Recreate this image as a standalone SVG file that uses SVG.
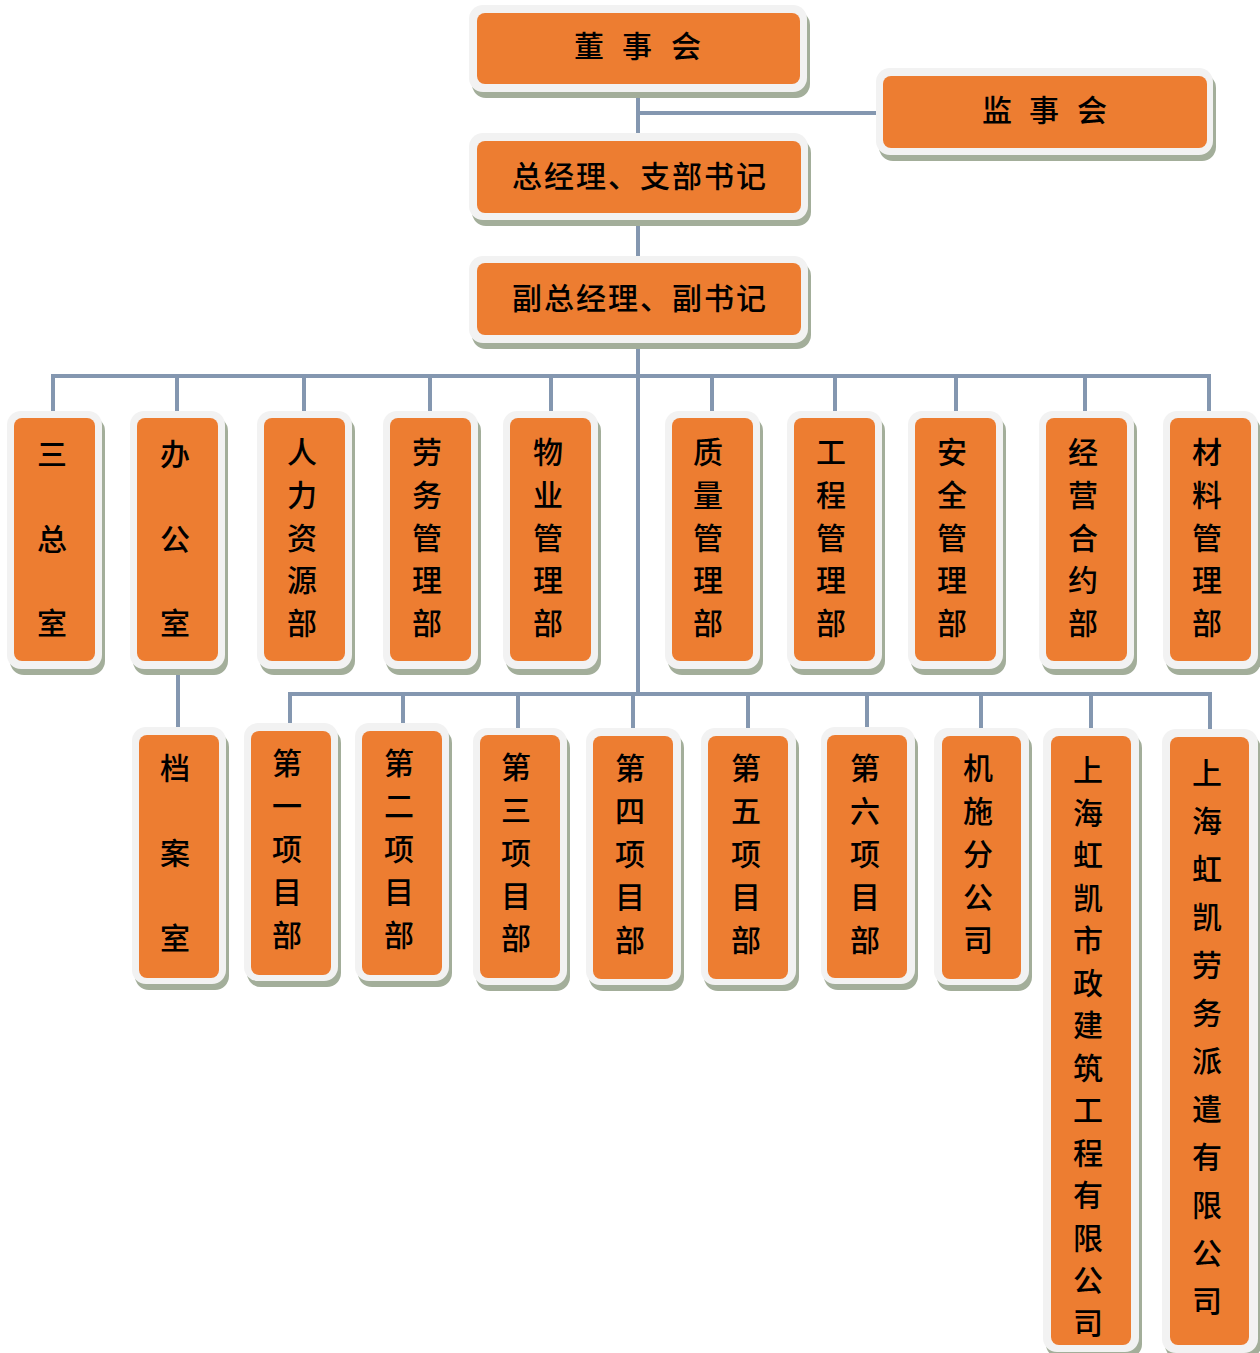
<svg xmlns="http://www.w3.org/2000/svg" width="1260" height="1353" viewBox="0 0 1260 1353">
<style>
.sh{fill:#a3ae9a}
.out{fill:#f2f2f2}
.in{fill:#ed7d31}
.t{font-family:"Noto Sans CJK SC","Noto Sans CJK TC",sans-serif;font-size:30px;font-weight:500;fill:#000;dominant-baseline:central;transform:translate(0,-2px)}
.c{text-anchor:middle}
.con{fill:none;stroke:#8497b0;stroke-width:4}
</style>
<rect width="1260" height="1353" fill="#ffffff"/>
<g id="connectors">
<path class="con" d="M638 92V694"/>
<path class="con" d="M638 113H876"/>
<path class="con" d="M53 411V376H1209V411"/>
<path class="con" d="M177 376V411M304 376V411M430 376V411M551 376V411M712 376V411M835 376V411M956 376V411M1085 376V411"/>
<path class="con" d="M178 669V728"/>
<path class="con" d="M290 727V694H1210V729"/>
<path class="con" d="M403 694V724M518 694V728M633 694V728M748 694V728M867 694V728M981 694V728M1091 694V729"/>
</g>
<g id="n-dongshihui">
<rect class="sh" x="472" y="11" width="338" height="87" rx="14"/>
<rect class="out" x="469" y="5" width="338" height="87" rx="14"/>
<rect class="in" x="477" y="13" width="323" height="71" rx="8"/>
<text class="t" y="46" x="574 604 622 652 671" xml:space="preserve">董 事 会</text>
</g>
<g id="n-jianshihui">
<rect class="sh" x="879" y="74" width="337" height="87" rx="14"/>
<rect class="out" x="876" y="68" width="337" height="87" rx="14"/>
<rect class="in" x="883" y="76" width="324" height="72" rx="8"/>
<text class="t" y="110" x="982 1012 1029 1059 1077" xml:space="preserve">监 事 会</text>
</g>
<g id="n-zongjingli">
<rect class="sh" x="472" y="139" width="339" height="87" rx="14"/>
<rect class="out" x="469" y="133" width="339" height="87" rx="14"/>
<rect class="in" x="477" y="141" width="324" height="72" rx="8"/>
<text class="t c" x="640" y="176" style="letter-spacing:2px">总经理、支部书记</text>
</g>
<g id="n-fuzong">
<rect class="sh" x="472" y="262" width="339" height="87" rx="14"/>
<rect class="out" x="469" y="256" width="339" height="87" rx="14"/>
<rect class="in" x="477" y="263" width="324" height="72" rx="8"/>
<text class="t c" x="640" y="298" style="letter-spacing:2px">副总经理、副书记</text>
</g>

<g id="n-sanzongshi">
<rect class="sh" x="10" y="417" width="95" height="258" rx="14"/>
<rect class="out" x="7" y="411" width="95" height="258" rx="14"/>
<rect class="in" x="14" y="418" width="81" height="243" rx="8"/>
<text class="t c"><tspan x="52" y="454">三</tspan><tspan x="52" y="539">总</tspan><tspan x="52" y="623">室</tspan></text>
</g>
<g id="n-bangongshi">
<rect class="sh" x="133" y="417" width="95" height="258" rx="14"/>
<rect class="out" x="130" y="411" width="95" height="258" rx="14"/>
<rect class="in" x="137" y="418" width="81" height="243" rx="8"/>
<text class="t c"><tspan x="175" y="454">办</tspan><tspan x="175" y="539">公</tspan><tspan x="175" y="623">室</tspan></text>
</g>
<g id="n-renli">
<rect class="sh" x="260" y="417" width="95" height="258" rx="14"/>
<rect class="out" x="257" y="411" width="95" height="258" rx="14"/>
<rect class="in" x="264" y="418" width="81" height="243" rx="8"/>
<text class="t c"><tspan x="302" y="452">人</tspan><tspan x="302" y="495">力</tspan><tspan x="302" y="538">资</tspan><tspan x="302" y="580">源</tspan><tspan x="302" y="623">部</tspan></text>
</g>
<g id="n-laowu">
<rect class="sh" x="386" y="417" width="95" height="258" rx="14"/>
<rect class="out" x="383" y="411" width="95" height="258" rx="14"/>
<rect class="in" x="390" y="418" width="81" height="243" rx="8"/>
<text class="t c"><tspan x="427" y="452">劳</tspan><tspan x="427" y="495">务</tspan><tspan x="427" y="538">管</tspan><tspan x="427" y="580">理</tspan><tspan x="427" y="623">部</tspan></text>
</g>
<g id="n-wuye">
<rect class="sh" x="506" y="417" width="95" height="258" rx="14"/>
<rect class="out" x="503" y="411" width="95" height="258" rx="14"/>
<rect class="in" x="510" y="418" width="81" height="243" rx="8"/>
<text class="t c"><tspan x="548" y="452">物</tspan><tspan x="548" y="495">业</tspan><tspan x="548" y="538">管</tspan><tspan x="548" y="580">理</tspan><tspan x="548" y="623">部</tspan></text>
</g>
<g id="n-zhiliang">
<rect class="sh" x="668" y="417" width="95" height="258" rx="14"/>
<rect class="out" x="665" y="411" width="95" height="258" rx="14"/>
<rect class="in" x="672" y="418" width="81" height="243" rx="8"/>
<text class="t c"><tspan x="708" y="452">质</tspan><tspan x="708" y="495">量</tspan><tspan x="708" y="538">管</tspan><tspan x="708" y="580">理</tspan><tspan x="708" y="623">部</tspan></text>
</g>
<g id="n-gongcheng">
<rect class="sh" x="790" y="417" width="95" height="258" rx="14"/>
<rect class="out" x="787" y="411" width="95" height="258" rx="14"/>
<rect class="in" x="794" y="418" width="81" height="243" rx="8"/>
<text class="t c"><tspan x="831" y="452">工</tspan><tspan x="831" y="495">程</tspan><tspan x="831" y="538">管</tspan><tspan x="831" y="580">理</tspan><tspan x="831" y="623">部</tspan></text>
</g>
<g id="n-anquan">
<rect class="sh" x="911" y="417" width="95" height="258" rx="14"/>
<rect class="out" x="908" y="411" width="95" height="258" rx="14"/>
<rect class="in" x="915" y="418" width="81" height="243" rx="8"/>
<text class="t c"><tspan x="952" y="452">安</tspan><tspan x="952" y="495">全</tspan><tspan x="952" y="538">管</tspan><tspan x="952" y="580">理</tspan><tspan x="952" y="623">部</tspan></text>
</g>
<g id="n-jingying">
<rect class="sh" x="1042" y="417" width="95" height="258" rx="14"/>
<rect class="out" x="1039" y="411" width="95" height="258" rx="14"/>
<rect class="in" x="1046" y="418" width="81" height="243" rx="8"/>
<text class="t c"><tspan x="1083" y="452">经</tspan><tspan x="1083" y="495">营</tspan><tspan x="1083" y="538">合</tspan><tspan x="1083" y="580">约</tspan><tspan x="1083" y="623">部</tspan></text>
</g>
<g id="n-cailiao">
<rect class="sh" x="1166" y="417" width="95" height="258" rx="14"/>
<rect class="out" x="1163" y="411" width="95" height="258" rx="14"/>
<rect class="in" x="1170" y="418" width="81" height="243" rx="8"/>
<text class="t c"><tspan x="1207" y="452">材</tspan><tspan x="1207" y="495">料</tspan><tspan x="1207" y="538">管</tspan><tspan x="1207" y="580">理</tspan><tspan x="1207" y="623">部</tspan></text>
</g>

<g id="n-dangan">
<rect class="sh" x="135" y="733" width="94" height="257" rx="14"/>
<rect class="out" x="132" y="727" width="94" height="257" rx="14"/>
<rect class="in" x="139" y="735" width="80" height="243" rx="8"/>
<text class="t c"><tspan x="175" y="768">档</tspan><tspan x="175" y="853">案</tspan><tspan x="175" y="938">室</tspan></text>
</g>
<g id="n-xm1">
<rect class="sh" x="247" y="729" width="94" height="258" rx="14"/>
<rect class="out" x="244" y="723" width="94" height="258" rx="14"/>
<rect class="in" x="251" y="731" width="80" height="244" rx="8"/>
<text class="t c"><tspan x="287" y="763">第</tspan><tspan x="287" y="806">一</tspan><tspan x="287" y="849">项</tspan><tspan x="287" y="892">目</tspan><tspan x="287" y="935">部</tspan></text>
</g>
<g id="n-xm2">
<rect class="sh" x="358" y="729" width="94" height="258" rx="14"/>
<rect class="out" x="355" y="723" width="94" height="258" rx="14"/>
<rect class="in" x="362" y="731" width="80" height="244" rx="8"/>
<text class="t c"><tspan x="399" y="763">第</tspan><tspan x="399" y="806">二</tspan><tspan x="399" y="849">项</tspan><tspan x="399" y="892">目</tspan><tspan x="399" y="935">部</tspan></text>
</g>
<g id="n-xm3">
<rect class="sh" x="476" y="734" width="94" height="257" rx="14"/>
<rect class="out" x="473" y="728" width="94" height="257" rx="14"/>
<rect class="in" x="480" y="735" width="80" height="243" rx="8"/>
<text class="t c"><tspan x="516" y="767">第</tspan><tspan x="516" y="810">三</tspan><tspan x="516" y="853">项</tspan><tspan x="516" y="896">目</tspan><tspan x="516" y="938">部</tspan></text>
</g>
<g id="n-xm4">
<rect class="sh" x="589" y="734" width="95" height="257" rx="14"/>
<rect class="out" x="586" y="728" width="95" height="257" rx="14"/>
<rect class="in" x="593" y="736" width="80" height="243" rx="8"/>
<text class="t c"><tspan x="630" y="768">第</tspan><tspan x="630" y="811">四</tspan><tspan x="630" y="854">项</tspan><tspan x="630" y="897">目</tspan><tspan x="630" y="940">部</tspan></text>
</g>
<g id="n-xm5">
<rect class="sh" x="704" y="734" width="95" height="257" rx="14"/>
<rect class="out" x="701" y="728" width="95" height="257" rx="14"/>
<rect class="in" x="708" y="736" width="80" height="243" rx="8"/>
<text class="t c"><tspan x="746" y="768">第</tspan><tspan x="746" y="811">五</tspan><tspan x="746" y="854">项</tspan><tspan x="746" y="897">目</tspan><tspan x="746" y="940">部</tspan></text>
</g>
<g id="n-xm6">
<rect class="sh" x="824" y="733" width="94" height="257" rx="14"/>
<rect class="out" x="821" y="727" width="94" height="257" rx="14"/>
<rect class="in" x="827" y="735" width="80" height="243" rx="8"/>
<text class="t c"><tspan x="865" y="768">第</tspan><tspan x="865" y="811">六</tspan><tspan x="865" y="854">项</tspan><tspan x="865" y="897">目</tspan><tspan x="865" y="940">部</tspan></text>
</g>
<g id="n-jishi">
<rect class="sh" x="937" y="734" width="95" height="257" rx="14"/>
<rect class="out" x="934" y="728" width="95" height="257" rx="14"/>
<rect class="in" x="942" y="736" width="79" height="243" rx="8"/>
<text class="t c"><tspan x="978" y="768">机</tspan><tspan x="978" y="811">施</tspan><tspan x="978" y="854">分</tspan><tspan x="978" y="897">公</tspan><tspan x="978" y="940">司</tspan></text>
</g>
<g id="n-shizheng">
<rect class="sh" x="1046" y="734" width="96" height="624" rx="14"/>
<rect class="out" x="1043" y="728" width="96" height="624" rx="14"/>
<rect class="in" x="1051" y="736" width="80" height="609" rx="8"/>
<text class="t c"><tspan x="1088" y="770">上</tspan><tspan x="1088" y="812.5">海</tspan><tspan x="1088" y="855">虹</tspan><tspan x="1088" y="897.5">凯</tspan><tspan x="1088" y="940">市</tspan><tspan x="1088" y="982.5">政</tspan><tspan x="1088" y="1025">建</tspan><tspan x="1088" y="1067.5">筑</tspan><tspan x="1088" y="1110">工</tspan><tspan x="1088" y="1152.5">程</tspan><tspan x="1088" y="1195">有</tspan><tspan x="1088" y="1237.5">限</tspan><tspan x="1088" y="1280">公</tspan><tspan x="1088" y="1322.5">司</tspan></text>
</g>
<g id="n-paiqian">
<rect class="sh" x="1165" y="735" width="96" height="624" rx="14"/>
<rect class="out" x="1162" y="729" width="96" height="624" rx="14"/>
<rect class="in" x="1170" y="737" width="79" height="608" rx="8"/>
<text class="t c"><tspan x="1207" y="773">上</tspan><tspan x="1207" y="821">海</tspan><tspan x="1207" y="869">虹</tspan><tspan x="1207" y="917">凯</tspan><tspan x="1207" y="965">劳</tspan><tspan x="1207" y="1013">务</tspan><tspan x="1207" y="1061">派</tspan><tspan x="1207" y="1109">遣</tspan><tspan x="1207" y="1157">有</tspan><tspan x="1207" y="1205">限</tspan><tspan x="1207" y="1253">公</tspan><tspan x="1207" y="1301">司</tspan></text>
</g>
</svg>
